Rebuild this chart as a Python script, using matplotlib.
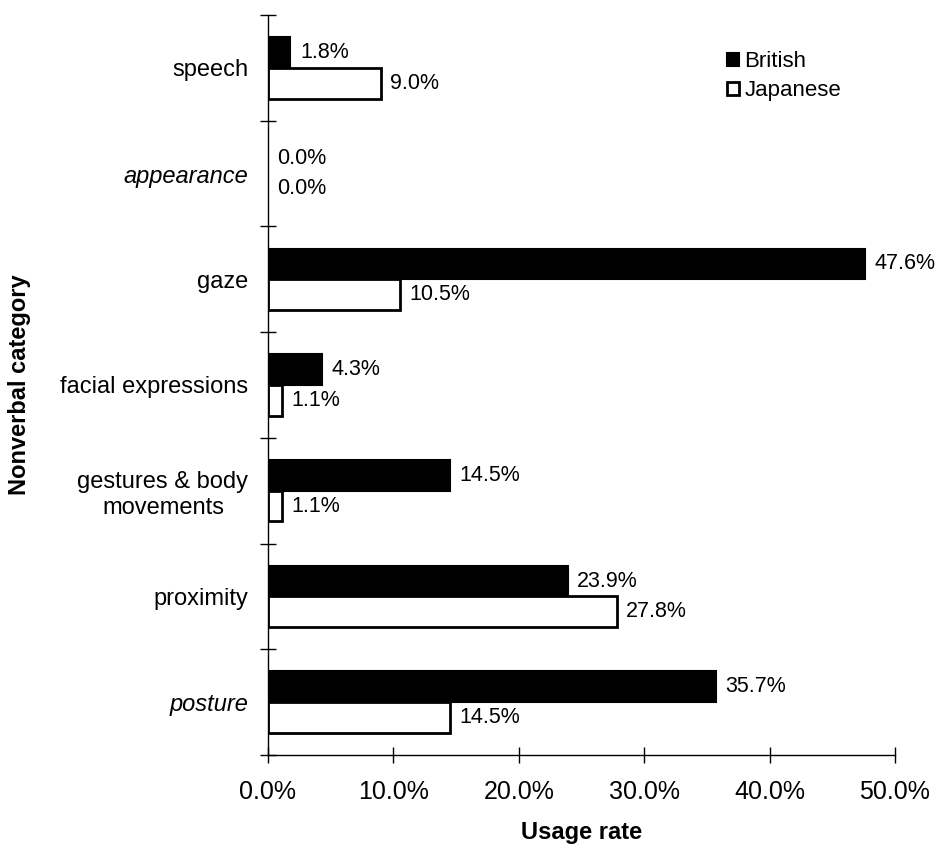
import matplotlib.pyplot as plt
import numpy as np

categories = ["speech", "appearance", "gaze", "facial expressions",
              "gestures & body\nmovements", "proximity", "posture"]
italic_cats = ["appearance", "posture"]
british = [1.8, 0.0, 47.6, 4.3, 14.5, 23.9, 35.7]
japanese = [9.0, 0.0, 10.5, 1.1, 1.1, 27.8, 14.5]
x_ticks = [0, 10, 20, 30, 40, 50]


def main() -> None:
    plt.rcParams["font.family"] = ["Liberation Sans", "DejaVu Sans"]
    fig = plt.figure(figsize=(9.5, 8.48), dpi=100)
    ax = fig.add_axes([0.282, 0.1097, 0.66, 0.8726])

    n = len(categories)
    y = np.arange(n)
    h = 0.29
    # no outline on empty bars, so nothing shows for 0.0%
    lw_b = [1.5 if v > 0 else 0 for v in british]
    lw_j = [2 if v > 0 else 0 for v in japanese]
    ax.barh(y - h / 2, british, height=h, color="black", edgecolor="black", linewidth=lw_b, label="British")
    ax.barh(y + h / 2, japanese, height=h, color="white", edgecolor="black", linewidth=lw_j, label="Japanese")

    for i in range(n):
        ax.text(british[i] + 0.75, y[i] - h / 2, f"{british[i]:.1f}%", va="center", ha="left", fontsize=15.5)
        ax.text(japanese[i] + 0.75, y[i] + h / 2, f"{japanese[i]:.1f}%", va="center", ha="left", fontsize=15.5)

    ax.set_ylim(n - 0.5, -0.5)
    ax.set_xlim(0, 50)

    ax.set_yticks(y)
    ax.set_yticklabels(categories, fontsize=17, ha="right", multialignment="center")
    for lab in ax.get_yticklabels():
        if lab.get_text() in italic_cats:
            lab.set_style("italic")
    ax.tick_params(axis="y", which="major", length=0, pad=14)
    ax.set_yticks(np.arange(n + 1) - 0.5, minor=True)
    ax.tick_params(axis="y", which="minor", direction="inout", length=12, width=1)

    ax.set_xticks(x_ticks)
    ax.set_xticklabels([f"{v:.1f}%" for v in x_ticks], fontsize=18)
    ax.tick_params(axis="x", direction="inout", length=12, width=1, pad=12)

    for s in ["top", "right"]:
        ax.spines[s].set_visible(False)
    ax.spines["left"].set_linewidth(1)
    ax.spines["bottom"].set_linewidth(1)

    ax.set_xlabel("Usage rate", fontsize=17, fontweight="bold", labelpad=12)
    ax.set_ylabel("Nonverbal category", fontsize=17, fontweight="bold", labelpad=21)

    ax.legend(loc="upper left", bbox_to_anchor=(0.7, 0.978), frameon=False, fontsize=16,
              handlelength=0.55, handleheight=0.55, handletextpad=0.25, labelspacing=0.35)

    fig.savefig("out.png", dpi=100)


if __name__ == "__main__":
    main()
